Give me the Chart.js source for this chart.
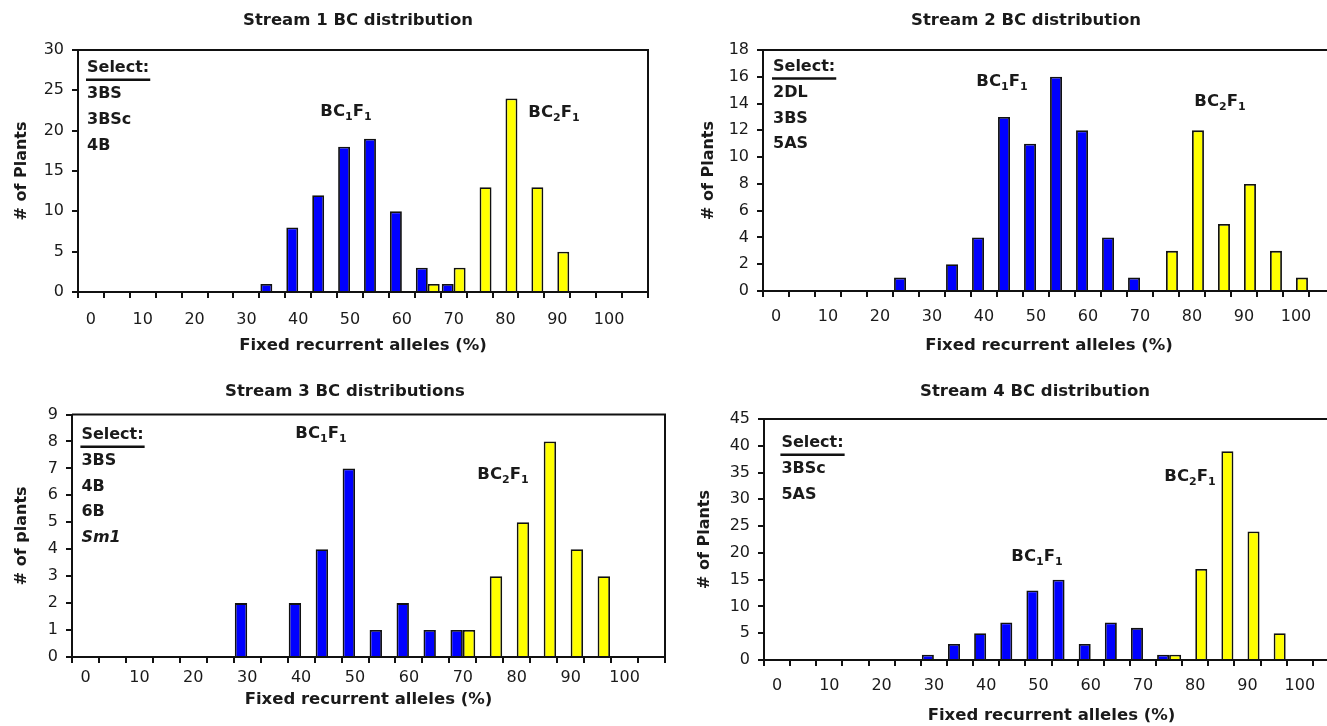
<!DOCTYPE html>
<html>
<head>
<meta charset="utf-8">
<script src="https://cdn.jsdelivr.net/npm/chart.js@4.4.1/dist/chart.umd.min.js"></script>
<style>
html, body { margin: 0; padding: 0; background: #ffffff; overflow: hidden; width: 1327px; height: 726px; }
canvas { position: absolute; }
</style>
</head>
<body>
<canvas id="c1" width="660" height="363" style="left:0px;top:0px"></canvas>
<canvas id="c2" width="680" height="363" style="left:680px;top:0px"></canvas>
<canvas id="c3" width="680" height="363" style="left:0px;top:363px"></canvas>
<canvas id="c4" width="680" height="363" style="left:680px;top:363px"></canvas>
<script>
// ---- data ----
const categories = ['0','5','10','15','20','25','30','35','40','45','50','55','60','65','70','75','80','85','90','95','100','105'];
const shownTickLabels = ['0','10','20','30','40','50','60','70','80','90','100'];

const stream1BC1F1 = [0,0,0,0,0,0,0,1,8,12,18,19,10,3,1,0,0,0,0,0,0,0];
const stream1BC2F1 = [0,0,0,0,0,0,0,0,0,0,0,0,0,1,3,13,24,13,5,0,0,0];
const stream2BC1F1 = [0,0,0,0,0,1,0,2,4,13,11,16,12,4,1,0,0,0,0,0,0,0];
const stream2BC2F1 = [0,0,0,0,0,0,0,0,0,0,0,0,0,0,0,3,12,5,8,3,1,0];
const stream3BC1F1 = [0,0,0,0,0,0,2,0,2,4,7,1,2,1,1,0,0,0,0,0,0,0];
const stream3BC2F1 = [0,0,0,0,0,0,0,0,0,0,0,0,0,0,1,3,5,8,4,3,0,0];
const stream4BC1F1 = [0,0,0,0,0,0,1,3,5,7,13,15,3,7,6,1,0,0,0,0,0,0];
const stream4BC2F1 = [0,0,0,0,0,0,0,0,0,0,0,0,0,0,0,1,17,39,24,5,0,0];

const panelTitles = ['Stream 1 BC distribution','Stream 2 BC distribution','Stream 3 BC distributions','Stream 4 BC distribution'];
const yTitles = ['# of Plants','# of Plants','# of plants','# of Plants'];
const xTitle = 'Fixed recurrent alleles (%)';
const selectLines1 = ['3BS','3BSc','4B'];
const selectLines2 = ['2DL','3BS','5AS'];
const selectLines3 = ['3BS','4B','6B','Sm1'];
const selectLines4 = ['3BSc','5AS'];
const italicLines = ['Sm1'];
const yMaxes = [30, 18, 9, 45];
const ySteps = [5, 2, 1, 5];

// ---- styling ----
const TEXT = '#1a1a1a';
const LINE = '#111111';
const BLUE = '#0000ff';
const YELLOW = '#ffff00';
const NONE = 'rgba(0,0,0,0)';
const FONT = '"DejaVu Sans", "Liberation Sans", Arial, sans-serif';
Chart.defaults.font.family = FONT;

function drawBC(ctx, gen, cx, cy) {
  const big = 'bold 16.5px ' + FONT, small = 'bold 11px ' + FONT;
  const parts = [['BC', big, 0], [String(gen), small, 4], ['F', big, 0], ['1', small, 4]];
  let total = 0;
  parts.forEach(p => { ctx.font = p[1]; p.push(ctx.measureText(p[0]).width); total += p[3]; });
  let x = cx - total / 2;
  const base = cy + 6;
  ctx.textAlign = 'left';
  ctx.textBaseline = 'alphabetic';
  parts.forEach(p => { ctx.font = p[1]; ctx.fillText(p[0], x, base + p[2]); x += p[3]; });
}

const decor = {
  id: 'decor',
  beforeDatasetsDraw(chart, args, o) {
    const ctx = chart.ctx, a = chart.chartArea;
    ctx.save();
    ctx.strokeStyle = LINE; ctx.lineWidth = 2;
    ctx.beginPath();
    ctx.moveTo(a.left, a.top); ctx.lineTo(a.right, a.top); ctx.lineTo(a.right, a.bottom);
    ctx.stroke();
    ctx.fillStyle = TEXT;
    ctx.textAlign = 'left'; ctx.textBaseline = 'middle';
    const sx = a.left + o.selDx, sy = a.top + o.selDy;
    ctx.font = 'bold 16px ' + FONT;
    ctx.fillText('Select:', sx, sy);
    const w = ctx.measureText('Select:').width;
    ctx.lineWidth = 2.5;
    ctx.beginPath(); ctx.moveTo(sx - 1, sy + 11.5); ctx.lineTo(sx + w + 1, sy + 11.5); ctx.stroke();
    o.lines.forEach((t, i) => {
      ctx.font = (italicLines.includes(t) ? 'italic bold 16px ' : 'bold 16px ') + FONT;
      ctx.fillText(t, sx, sy + 25.7 * (i + 1));
    });
    o.bc.forEach(b => drawBC(ctx, b.gen, a.left + b.dx, a.top + b.dy));
    ctx.restore();
  },
  afterDraw(chart, args, o) {
    const ctx = chart.ctx;
    ctx.save();
    ctx.fillStyle = TEXT;
    ctx.font = 'bold 16.5px ' + FONT;
    ctx.textAlign = 'center'; ctx.textBaseline = 'middle';
    ctx.fillText(o.title, o.titleX, o.titleY);
    ctx.restore();
  }
};

function bars(arr) { return arr.map(v => (v > 0 ? v : null)); }
function fillFor(color) { return c => (c.raw == null ? NONE : color); }
const borderFor = c => (c.raw == null ? NONE : LINE);
const borderWFor = c => (c.raw == null ? 0 : 1.8);

function makeChart(id, c) {
  return new Chart(document.getElementById(id), {
    type: 'bar',
    data: {
      labels: categories,
      datasets: [
        { label: 'BC1F1', data: bars(c.bc1), backgroundColor: fillFor(BLUE), borderColor: borderFor, borderWidth: borderWFor, borderSkipped: 'start', categoryPercentage: 0.92, barPercentage: 1 },
        { label: 'BC2F1', data: bars(c.bc2), backgroundColor: fillFor(YELLOW), borderColor: borderFor, borderWidth: borderWFor, borderSkipped: 'start', categoryPercentage: 0.92, barPercentage: 1 }
      ]
    },
    options: {
      responsive: false,
      animation: false,
      events: [],
      layout: { padding: { left: 0, top: c.padTop, right: c.padRight, bottom: 0 } },
      plugins: {
        legend: { display: false },
        tooltip: { enabled: false },
        decor: { title: c.title, titleX: c.titleX, titleY: c.titleY, selDx: c.selDx, selDy: c.selDy, lines: c.lines, bc: c.bcLabels }
      },
      scales: {
        x: {
          type: 'category',
          offset: true,
          grid: { offset: true, drawOnChartArea: false, drawTicks: true, tickLength: 6, color: LINE, lineWidth: 2 },
          border: { display: true, color: LINE, width: 2 },
          ticks: {
            autoSkip: false, maxRotation: 0, minRotation: 0, padding: c.xPad, color: TEXT, font: { size: 16 },
            callback: (v, i) => (shownTickLabels.includes(categories[i]) ? categories[i] : '')
          },
          title: { display: true, text: xTitle, color: TEXT, font: { size: 16.5, weight: 'bold' }, padding: { top: 0, bottom: c.xTitlePad } },
          afterFit: s => { s.height = c.xHeight; }
        },
        y: {
          min: 0, max: c.yMax,
          ticks: { stepSize: c.yStep, padding: 8, color: TEXT, font: { size: 16 } },
          grid: { drawOnChartArea: false, drawTicks: true, tickLength: 6, color: LINE, lineWidth: 2 },
          border: { display: true, color: LINE, width: 2 },
          title: { display: true, text: c.yTitle, color: TEXT, font: { size: 16, weight: 'bold' }, padding: { top: c.yTitlePad, bottom: 0 } },
          afterFit: s => { s.width = c.yWidth; }
        }
      }
    },
    plugins: [decor]
  });
}

makeChart('c1', {
  bc1: stream1BC1F1, bc2: stream1BC2F1, yMax: yMaxes[0], yStep: ySteps[0],
  title: panelTitles[0], titleX: 358, titleY: 21, yTitle: yTitles[0],
  padTop: 50, padRight: 12, yWidth: 78, xHeight: 71, xPad: 12, xTitlePad: 7, yTitlePad: 12.4,
  selDx: 9, selDy: 18.3, lines: selectLines1,
  bcLabels: [{ gen: 1, dx: 268, dy: 60 }, { gen: 2, dx: 476, dy: 61 }]
});
makeChart('c2', {
  bc1: stream2BC1F1, bc2: stream2BC2F1, yMax: yMaxes[1], yStep: ySteps[1],
  title: panelTitles[1], titleX: 346, titleY: 21, yTitle: yTitles[1],
  padTop: 50, padRight: 25, yWidth: 83, xHeight: 72, xPad: 10, xTitlePad: 7, yTitlePad: 19.4,
  selDx: 10, selDy: 17, lines: selectLines2,
  bcLabels: [{ gen: 1, dx: 239, dy: 30 }, { gen: 2, dx: 457, dy: 50 }]
});
makeChart('c3', {
  bc1: stream3BC1F1, bc2: stream3BC2F1, yMax: yMaxes[2], yStep: ySteps[2],
  title: panelTitles[2], titleX: 345, titleY: 29, yTitle: yTitles[2],
  padTop: 51.5, padRight: 15, yWidth: 72, xHeight: 69, xPad: 5, xTitlePad: 16, yTitlePad: 12.1,
  selDx: 9.4, selDy: 20.7, lines: selectLines3,
  bcLabels: [{ gen: 1, dx: 249, dy: 17.5 }, { gen: 2, dx: 431, dy: 58.5 }]
});
makeChart('c4', {
  bc1: stream4BC1F1, bc2: stream4BC2F1, yMax: yMaxes[3], yStep: ySteps[3],
  title: panelTitles[3], titleX: 355, titleY: 29, yTitle: yTitles[3],
  padTop: 56, padRight: 21, yWidth: 84, xHeight: 66, xPad: 10, xTitlePad: 0, yTitlePad: 15.4,
  selDx: 17.4, selDy: 24.3, lines: selectLines4,
  bcLabels: [{ gen: 1, dx: 273, dy: 136 }, { gen: 2, dx: 426, dy: 56 }]
});
</script>
</body>
</html>
